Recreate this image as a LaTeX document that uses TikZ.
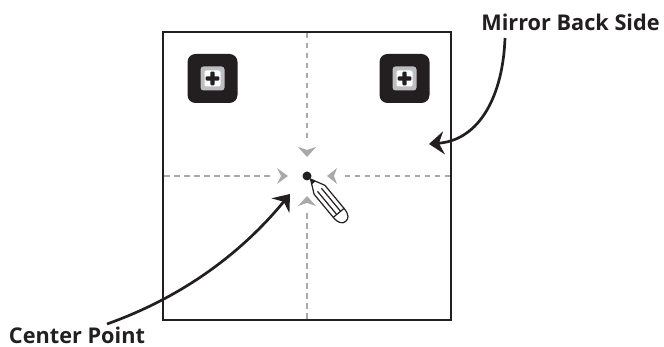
\documentclass[tikz,border=0pt]{standalone}
\usepackage{fontspec}
\setmainfont{Open Sans}
\usetikzlibrary{arrows.meta}
\definecolor{ink}{HTML}{231F20}
\definecolor{guide}{HTML}{A7A9AC}
\tikzset{
  lbl/.style={font=\fontsize{21.7}{26}\selectfont\bfseries,text=ink,inner sep=0pt},
  frame/.style={draw=ink,line width=2.8pt},
  guideline/.style={draw=guide,line width=1.7pt,dash pattern=on 5.5pt off 4.5pt},
  chev/.style={fill=guide,draw=none},
  callout/.style={draw=ink,line width=2.7pt,-{Stealth[length=15pt,width=23pt,inset=5pt]}},
  plate/.style={fill=ink,draw=none,rounded corners=8pt},
  pencil/.style={draw=ink,line width=1.2pt,fill=white,line join=round},
}
\newcommand{\screw}[2]{%
  \begin{scope}[shift={(#1,#2)}]
    \fill[plate] (-25,-24.5) rectangle (25,24.5);
    \fill[fill=guide!75,rounded corners=3pt] (-12,-12) rectangle (12,12);
    \fill[fill=white,rounded corners=2pt] (-8,-8) rectangle (8,8);
    \fill[ink,rounded corners=1pt] (-6.8,-2.2) rectangle (6.8,2.2);
    \fill[ink,rounded corners=1pt] (-2.2,-6.8) rectangle (2.2,6.8);
  \end{scope}}
\begin{document}
\begin{tikzpicture}[x=1pt,y=-1pt]
\useasboundingbox (0,0) rectangle (664,347);
\draw[frame] (163,32) rectangle (451,320);
\coordinate (c) at (307,176);
\coordinate (top) at (307,33);
\coordinate (bot) at (307,319);
\coordinate (lft) at (164,176);
\coordinate (rgt) at (450,176);
\coordinate (topn) at (307,141);
\coordinate (botn) at (307,212);
\coordinate (lftn) at (271,176);
\coordinate (rgtn) at (343,176);
\draw[guideline] (top) -- (topn);
\draw[guideline] (bot) -- (botn);
\draw[guideline] (lft) -- (lftn);
\draw[guideline] (rgt) -- (rgtn);
\fill[chev] (307,157) -- (298,147) -- (307,150) -- (316,147) -- cycle;
\fill[chev] (307,196) -- (298,206) -- (307,203) -- (316,206) -- cycle;
\fill[chev] (288,176) -- (277,168) -- (281,176) -- (277,184) -- cycle;
\fill[chev] (327,176) -- (337,168) -- (334,176) -- (337,184) -- cycle;
\screw{212.5}{78.5}
\screw{404.5}{78.5}
\fill[ink] (c) circle (4.5);
\begin{scope}[shift={(310.5,179)},x={(0.64pt,-0.77pt)},y={(0.77pt,0.64pt)}]
  \draw[pencil] (0,0) -- (14,-7) -- (44,-7) .. controls (52,-7) and (55,-4) .. (55,0)
     .. controls (55,4) and (52,7) .. (44,7) -- (14,7) -- cycle;
  \draw[ink,line width=1.2pt] (44,-7) -- (44,7);
  \draw[ink,line width=1.2pt] (14,-2.5) -- (44,-2.5) (14,2.5) -- (44,2.5);
  \fill[ink] (0,0) -- (5,-2.5) -- (5,2.5) -- cycle;
\end{scope}
\node[lbl,anchor=center] (mirror) at (570.5,22) {Mirror Back Side};
\node[lbl,anchor=center] (center) at (77,335) {Center Point};
\coordinate (mtip) at (429,144);
\coordinate (mstart) at (505,38);
\coordinate (ctip) at (290,194);
\coordinate (cstart) at (107,324);
\draw[callout] (mstart) .. controls (503,95) and (480,140) .. (mtip);
\draw[callout] (cstart) .. controls (180,298) and (240,255) .. (ctip);
\end{tikzpicture}
\end{document}
